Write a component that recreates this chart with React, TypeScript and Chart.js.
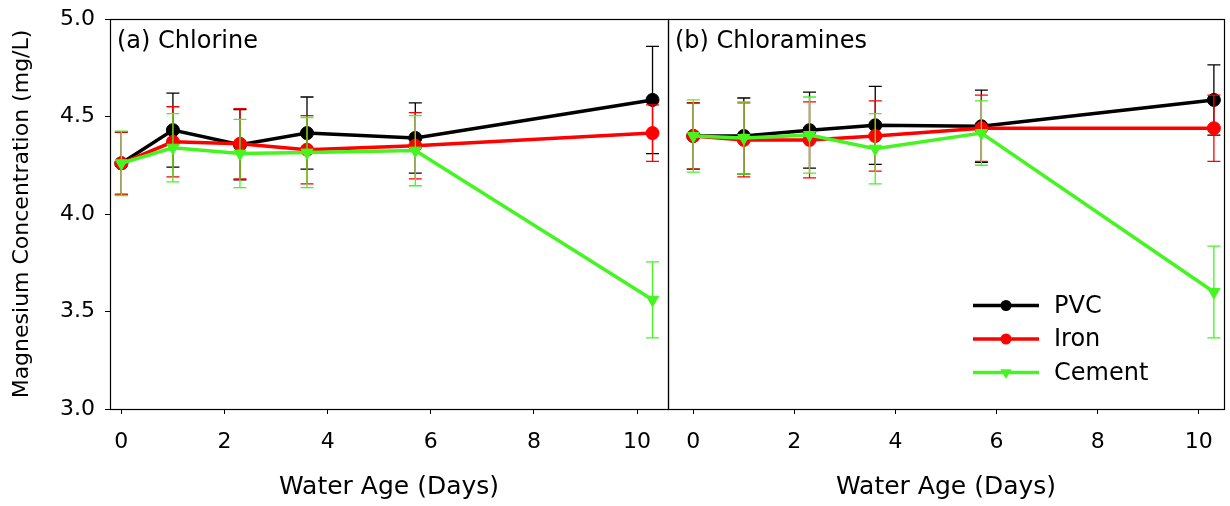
import React, { useEffect, useRef } from 'react';
import { Chart, registerables } from 'chart.js';

Chart.register(...registerables);

const FONT = "'DejaVu Sans', sans-serif";
Chart.defaults.font.family = FONT;
Chart.defaults.color = '#000';

// ---- data ----
const waterAgeDays = [0, 1, 2.3, 3.6, 5.7, 10.3];
const xTickValues = [0, 2, 4, 6, 8, 10];
const yTickValues = [3.0, 3.5, 4.0, 4.5, 5.0];
const materials = ['PVC', 'Iron', 'Cement'];
const panelTitles = ['(a) Chlorine', '(b) Chloramines'];
const xAxisTitle = 'Water Age (Days)';
const yAxisTitle = 'Magnesium Concentration (mg/L)';

const chlorinePVC = [4.26, 4.43, 4.355, 4.415, 4.39, 4.585];
const chlorinePVCErr = [0.16, 0.19, 0.18, 0.185, 0.18, 0.275];
const chlorineIron = [4.26, 4.37, 4.36, 4.33, 4.35, 4.415];
const chlorineIronErr = [0.16, 0.18, 0.18, 0.175, 0.17, 0.145];
const chlorineCement = [4.26, 4.34, 4.31, 4.315, 4.325, 3.56];
const chlorineCementErr = [0.165, 0.175, 0.175, 0.18, 0.18, 0.195];

const chloraminePVC = [4.4, 4.4, 4.43, 4.455, 4.45, 4.585];
const chloraminePVCErr = [0.17, 0.195, 0.195, 0.2, 0.185, 0.18];
const chloramineIron = [4.4, 4.38, 4.38, 4.4, 4.44, 4.44];
const chloramineIronErr = [0.17, 0.19, 0.195, 0.18, 0.17, 0.17];
const chloramineCement = [4.4, 4.39, 4.405, 4.335, 4.415, 3.6];
const chloramineCementErr = [0.185, 0.185, 0.195, 0.18, 0.165, 0.235];

const seriesColors = ['#000000', '#ff0000', '#45f522'];

// ---- plugins ----
const errorBarPlugin = {
  id: 'errorBars',
  beforeDatasetDraw(chart: any, args: any) {
    const ds: any = chart.data.datasets[args.index];
    const errs: number[] = ds.errors;
    if (!errs) return;
    const yScale = chart.scales.y;
    const ctx = chart.ctx;
    ctx.save();
    ctx.strokeStyle = ds.borderColor;
    ctx.lineWidth = 1.3;
    args.meta.data.forEach((pt: any, j: number) => {
      const v = ds.data[j].y;
      const e = errs[j];
      const x = pt.x;
      const yt = yScale.getPixelForValue(v + e);
      const yb = yScale.getPixelForValue(v - e);
      ctx.beginPath();
      ctx.moveTo(x, yt);
      ctx.lineTo(x, yb);
      ctx.moveTo(x - 6.5, yt);
      ctx.lineTo(x + 6.5, yt);
      ctx.moveTo(x - 6.5, yb);
      ctx.lineTo(x + 6.5, yb);
      ctx.stroke();
    });
    ctx.restore();
  },
};

const framePlugin = {
  id: 'frame',
  afterDraw(chart: any) {
    const { ctx, chartArea } = chart;
    const l = Math.round(chartArea.left) + 0.5;
    const r = Math.round(chartArea.right) + 0.5;
    const t = Math.round(chartArea.top) + 0.5;
    const b = Math.round(chartArea.bottom) + 0.5;
    ctx.save();
    ctx.strokeStyle = '#000';
    ctx.lineWidth = 1.2;
    ctx.strokeRect(l, t, r - l, b - t);
    ctx.restore();
  },
};

const titlePlugin = {
  id: 'panelTitle',
  afterDraw(chart: any, _args: any, opts: any) {
    if (!opts || !opts.text) return;
    const { ctx, chartArea } = chart;
    ctx.save();
    ctx.font = `24px ${FONT}`;
    ctx.fillStyle = '#000';
    ctx.textAlign = 'left';
    ctx.textBaseline = 'alphabetic';
    ctx.fillText(opts.text, chartArea.left + 7, chartArea.top + 29);
    ctx.restore();
  },
};

function drawMarker(ctx: CanvasRenderingContext2D, style: string, x: number, y: number, r: number) {
  ctx.beginPath();
  if (style === 'triangle') {
    ctx.moveTo(x, y + r);
    ctx.lineTo(x - r * 0.866, y - r * 0.5);
    ctx.lineTo(x + r * 0.866, y - r * 0.5);
    ctx.closePath();
  } else {
    ctx.arc(x, y, r, 0, Math.PI * 2);
  }
  ctx.fill();
}

const legendPlugin = {
  id: 'seriesKey',
  afterDraw(chart: any, _args: any, opts: any) {
    if (!opts || !opts.show) return;
    const { ctx, chartArea } = chart;
    const x0 = chartArea.left + 305;
    const x1 = chartArea.left + 371;
    const xm = chartArea.left + 338;
    const xt = chartArea.left + 386;
    ctx.save();
    chart.data.datasets.forEach((ds: any, i: number) => {
      const y = chartArea.bottom - 103.5 + i * 33.5;
      ctx.strokeStyle = ds.borderColor;
      ctx.fillStyle = ds.borderColor;
      ctx.lineWidth = 3.5;
      ctx.beginPath();
      ctx.moveTo(x0, y);
      ctx.lineTo(x1, y);
      ctx.stroke();
      drawMarker(ctx, ds.pointStyle, xm, y, ds.pointStyle === 'triangle' ? 6.5 : 5.5);
      ctx.fillStyle = '#000';
      ctx.font = `24px ${FONT}`;
      ctx.textAlign = 'left';
      ctx.textBaseline = 'middle';
      ctx.fillText(ds.label, xt, y + 1);
    });
    ctx.restore();
  },
};

function buildConfig(panel: number): any {
  const isA = panel === 0;
  const values = isA
    ? [chlorinePVC, chlorineIron, chlorineCement]
    : [chloraminePVC, chloramineIron, chloramineCement];
  const errs = isA
    ? [chlorinePVCErr, chlorineIronErr, chlorineCementErr]
    : [chloraminePVCErr, chloramineIronErr, chloramineCementErr];

  const datasets = materials.map((name, i) => ({
    label: name,
    data: waterAgeDays.map((d, j) => ({ x: d, y: values[i][j] })),
    errors: errs[i],
    borderColor: seriesColors[i],
    backgroundColor: seriesColors[i],
    pointBackgroundColor: seriesColors[i],
    pointBorderColor: seriesColors[i],
    pointBorderWidth: 1,
    borderWidth: 3.5,
    pointRadius: i === 2 ? 7 : 6.5,
    pointStyle: i === 2 ? 'triangle' : 'circle',
    pointRotation: i === 2 ? 180 : 0,
    order: 3 - i,
    tension: 0,
    fill: false,
  }));

  const gridOpts = {
    display: true,
    drawOnChartArea: false,
    drawTicks: true,
    tickLength: 5,
    color: '#000',
    lineWidth: 1,
  };

  return {
    type: 'line',
    data: { datasets },
    options: {
      responsive: false,
      maintainAspectRatio: false,
      animation: false,
      events: [],
      layout: {
        autoPadding: false,
        padding: isA
          ? { top: 19, right: 2, left: 0, bottom: 0 }
          : { top: 19, right: 6, left: 8, bottom: 0 },
      },
      plugins: {
        legend: { display: false },
        tooltip: { enabled: false },
        panelTitle: { text: panelTitles[panel] },
        seriesKey: { show: !isA },
      },
      scales: {
        x: {
          type: 'linear',
          min: isA ? -0.22 : -0.5,
          max: isA ? 10.6 : 10.5,
          afterBuildTicks: (s: any) => {
            s.ticks = xTickValues.map((v) => ({ value: v }));
          },
          afterFit: (s: any) => {
            s.height = 97;
            s.paddingLeft = 0;
            s.paddingRight = 0;
          },
          grid: gridOpts,
          border: { display: true, color: '#000', width: 1 },
          ticks: {
            font: { size: 22 },
            color: '#000',
            padding: 15,
            maxRotation: 0,
            autoSkip: false,
            callback: (v: any) => String(v),
          },
          title: {
            display: true,
            text: xAxisTitle,
            font: { size: 25 },
            color: '#000',
            padding: { top: 0, bottom: 4 },
          },
        },
        y: {
          type: 'linear',
          min: 3,
          max: 5,
          display: isA,
          afterBuildTicks: (s: any) => {
            s.ticks = yTickValues.map((v) => ({ value: v }));
          },
          afterFit: (s: any) => {
            s.width = isA ? 110 : 0;
            s.paddingTop = 0;
            s.paddingBottom = 0;
          },
          grid: gridOpts,
          border: { display: true, color: '#000', width: 1 },
          ticks: {
            font: { size: 22 },
            color: '#000',
            padding: 10,
            callback: (v: any) => Number(v).toFixed(1),
          },
          title: {
            display: true,
            text: yAxisTitle,
            font: { size: 22 },
            color: '#000',
            padding: { top: 9, bottom: 0 },
          },
        },
      },
    },
    plugins: [errorBarPlugin, framePlugin, titlePlugin, legendPlugin],
  };
}

export default function App() {
  const refA = useRef<HTMLCanvasElement>(null);
  const refB = useRef<HTMLCanvasElement>(null);

  useEffect(() => {
    const a = new Chart(refA.current as HTMLCanvasElement, buildConfig(0));
    const b = new Chart(refB.current as HTMLCanvasElement, buildConfig(1));
    return () => {
      a.destroy();
      b.destroy();
    };
  }, []);

  return (
    <div style={{ position: 'absolute', left: 0, top: 0, width: 1230, height: 506, background: '#fff' }}>
      <canvas ref={refA} width={670} height={506} style={{ position: 'absolute', left: 0, top: 0 }} />
      <canvas ref={refB} width={570} height={506} style={{ position: 'absolute', left: 660, top: 0 }} />
    </div>
  );
}
